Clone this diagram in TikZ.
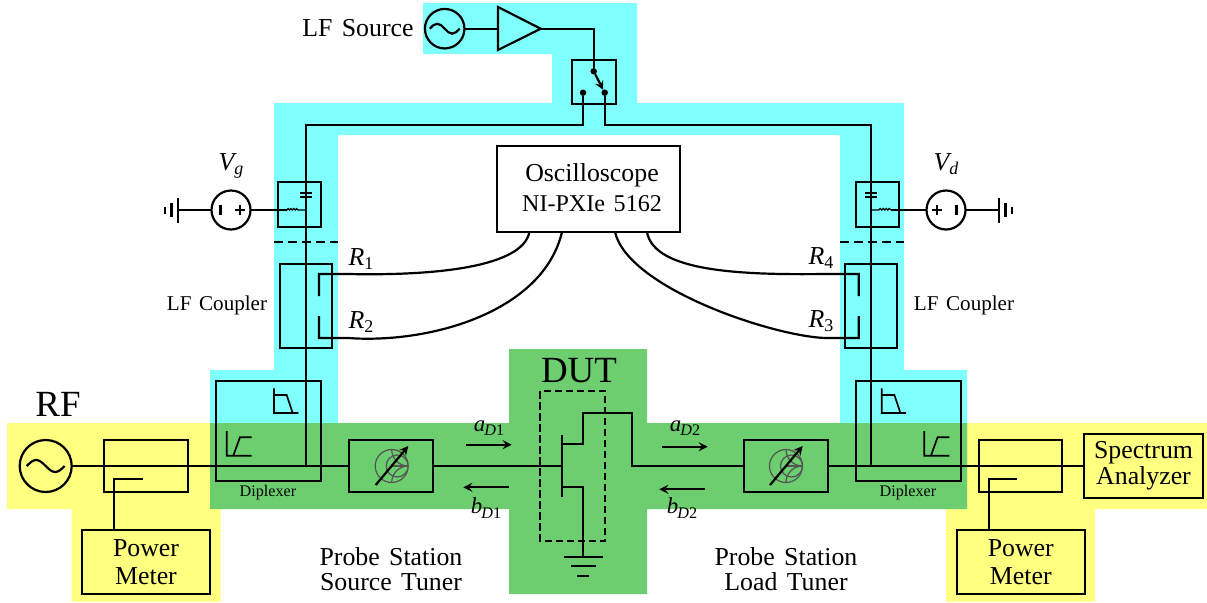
\documentclass[tikz,border=0pt]{standalone}
\usepackage{fontspec}
\setmainfont[WordSpace=1.45]{Liberation Serif}
\definecolor{lfcyan}{RGB}{128,255,255}
\definecolor{pwyellow}{RGB}{255,255,128}
\definecolor{tunergreen}{RGB}{108,206,110}
\definecolor{smithgray}{RGB}{85,85,85}
\newlength{\px}
\setlength{\px}{0.02cm}
\tikzset{
  wire/.style={line width=1.25pt},
  boxnode/.style={draw,line width=1.25pt,rectangle,inner sep=0pt,outer sep=0pt},
  srcnode/.style={draw,line width=1.25pt,circle,inner sep=0pt,outer sep=0pt},
  dotnode/.style={fill,circle,inner sep=0pt,outer sep=0pt,minimum size=6.5\px},
  midtext/.style={font=\fontsize{14.7}{14.2}\selectfont,align=center,inner sep=0pt},
  bigtext/.style={font=\fontsize{21}{21}\selectfont,inner sep=0pt},
  smalltext/.style={font=\fontsize{12}{14}\selectfont,inner sep=0pt},
  tinytext/.style={font=\fontsize{9.2}{11}\selectfont,inner sep=0pt},
  wavetext/.style={font=\fontsize{13}{13}\selectfont,inner sep=0pt},
}
% italic letter with a lowered index, size fixed by hand
\newcommand{\idx}[3]{\textit{#1}\kern#3\raisebox{-2.6pt}{\fontsize{10.2}{10}\selectfont #2}}
\newcommand{\wavelbl}[2]{\textit{#1}\kern-0.4pt\raisebox{-2.4pt}{\fontsize{9.2}{9}\selectfont\textit{D}#2}}
\newcommand{\tildewave}[3]{\draw[wire] (#1) ++(-#2,0) sin ++(#2/2,-#3) cos ++(#2/2,#3) sin ++(#2/2,#3) cos ++(#2/2,-#3);}
\newcommand{\smithchart}[1]{%
  \begin{scope}[shift={(#1)},smithgray,line width=0.7pt]
    \draw (0,0) circle (16.5);
    \draw (0,0) -- (16.5,0);
    \begin{scope}
      \clip (0,0) circle (16.5);
      \draw (5.5,0) circle (11);
      \draw (16.5,-16.5) circle (16.5);
      \draw (16.5,16.5) circle (16.5);
    \end{scope}
  \end{scope}}
\begin{document}
\begin{tikzpicture}[x=0.02cm,y=-0.02cm,>=stealth]
  \useasboundingbox (0,0) rectangle (1207,602);
  % coloured bands: lf path, power meters, tuner cross on top
  \fill[lfcyan] (423,3) -- (637,3) -- (637,103) -- (904,103) -- (904,370) -- (967,370) -- (967,423)
    -- (840,423) -- (840,135) -- (338,135) -- (338,423) -- (210,423) -- (210,370) -- (274,370)
    -- (274,103) -- (552,103) -- (552,54) -- (423,54) -- cycle;
  \fill[pwyellow] (7,423) -- (210,423) -- (210,509) -- (220.5,509) -- (220.5,601.5) -- (71.5,601.5) -- (71.5,509) -- (7,509) -- cycle;
  \fill[pwyellow] (967,423) -- (1207,423) -- (1207,509) -- (1095,509) -- (1095,601.5) -- (946,601.5) -- (946,509) -- (967,509) -- cycle;
  \fill[tunergreen] (210,423) -- (509,423) -- (509,349) -- (647,349) -- (647,423) -- (967,423)
    -- (967,509) -- (647,509) -- (647,594) -- (509,594) -- (509,509) -- (210,509) -- cycle;

  % lf source and switch
  \node[srcnode,minimum size=39.5\px] (lfsrc) at (444.7,28.7) {};
  \tildewave{lfsrc}{15}{5}
  \coordinate (ampIn) at (498,28.7);
  \coordinate (ampOut) at (540.7,28.7);
  \draw[wire] (498,7) -- (ampOut) -- (498,50) -- cycle;
  \node[boxnode,minimum width=43.7\px,minimum height=43.4\px] (switch) at (593.8,82) {};
  \node[dotnode] (swIn) at (593.7,71.3) {};
  \node[dotnode] (swA) at (583,92.7) {};
  \node[dotnode] (swB) at (604.7,92.7) {};
  \coordinate (cornerL) at (305.7,124.7);
  \coordinate (cornerR) at (871,124.7);
  \coordinate (jctL) at (305.7,466);
  \coordinate (jctR) at (871,466);
  \draw[wire] (lfsrc) -- (ampIn);
  \draw[wire] (ampOut) -| (swIn);
  \draw[wire,->] (swIn) -- (swB);
  \draw[wire] (swA) |- (cornerL) -- (jctL);
  \draw[wire] (swB) |- (cornerR) -- (jctR);

  % bias tees
  \node[boxnode,minimum width=43.6\px,minimum height=45\px] (teeL) at (299.5,204.5) {};
  \node[boxnode,minimum width=43.3\px,minimum height=45\px] (teeR) at (877.6,204.5) {};
  \foreach \x in {306.2,871.2}
    \foreach \y in {192.7,197.3}
      \draw[line width=1.1pt] (\x-6.2,\y) -- (\x+6.2,\y);
  \coordinate (coilL) at (286.7,210);
  \coordinate (coilR) at (890.7,210);
  \draw[line width=0.7pt] (coilL) \foreach \i in {1,...,4} {arc (180:360:1.41)} -- (305.7,210);
  \draw[line width=0.7pt] (871,210) -- (878.7,210) \foreach \i in {1,...,4} {arc (180:360:1.5)};
  \node[srcnode,minimum size=39\px] (vgsrc) at (231,210) {};
  \node[srcnode,minimum size=39\px] (vdsrc) at (946,210) {};
  \draw[wire] (vgsrc) -- (coilL);
  \draw[wire] (vdsrc) -- (coilR);
  \draw[line width=1.4pt] (220.7,205) -- (220.7,215) (235,210) -- (245,210) (240,205) -- (240,215);
  \draw[line width=1.4pt] (937,205) -- (937,215) (932,210) -- (942,210) (956.3,205) -- (956.3,215);
  \coordinate (gndG) at (178,210);
  \coordinate (gndD) at (999,210);
  \draw[wire] (vgsrc) -- (gndG);
  \draw[wire] (vdsrc) -- (gndD);
  \foreach \dx/\h in {0/12.5,6.5/7,13/3.5} {
    \draw[wire] (178-\dx,210-\h) -- (178-\dx,210+\h);
    \draw[wire] (999+\dx,210-\h) -- (999+\dx,210+\h);
  }
  \draw[wire,dash pattern=on 8.5\px off 5.5\px] (274,242) -- (338,242);
  \draw[wire,dash pattern=on 8.5\px off 5.5\px] (840,242) -- (904,242);

  % lf couplers and oscilloscope
  \node[boxnode,minimum width=51.7\px,minimum height=83.7\px] (cplL) at (305.8,305.9) {};
  \node[boxnode,minimum width=51.7\px,minimum height=83.7\px] (cplR) at (871.2,305.9) {};
  \node[boxnode,minimum width=183\px,minimum height=86\px] (scope) at (588.5,189) {};
  \coordinate (probeR1) at (319,274);
  \coordinate (probeR2) at (319,338);
  \coordinate (probeR3) at (858.7,338);
  \coordinate (probeR4) at (858.7,274);
  \draw[wire] (319,296) -- (probeR1) -- (348,274) .. controls (440,276) and (523,266) .. (scope.south west -| 529.4,0);
  \draw[wire] (319,316) -- (probeR2) -- (348,338) .. controls (430,344) and (543,312) .. (scope.south west -| 562,0);
  \draw[wire] (858.7,316) -- (probeR3) -- (825,338) .. controls (772,336) and (628,288) .. (scope.south east -| 615,0);
  \draw[wire] (858.7,296) -- (probeR4) -- (825,274) .. controls (742,275) and (654,272) .. (scope.south east -| 647,0);

  % diplexers
  \node[boxnode,minimum width=105\px,minimum height=100\px] (dipL) at (268.5,430.7) {};
  \node[boxnode,minimum width=105\px,minimum height=100\px] (dipR) at (908.5,430.7) {};
  \foreach \x in {274,881.7}
    \draw[line width=0.95pt] (\x,388.3) -- (\x,413) -- (\x+24.3,413) (\x,395) -- (\x+12.7,395) -- (\x+18.7,413);
  \foreach \x in {226.7,924.3}
    \draw[line width=0.95pt] (\x,431) -- (\x,455.7) -- (\x+25,455.7) (\x+6.6,455.7) -- (\x+13.3,437.3) -- (\x+25,437.3);

  % tuners, rf source, power meters
  \node[boxnode,minimum width=84\px,minimum height=51.7\px] (tunerL) at (391.3,466) {};
  \node[boxnode,minimum width=84\px,minimum height=51.7\px] (tunerR) at (786,466) {};
  \smithchart{391.7,466}
  \smithchart{786,466}
  \coordinate (smithLa) at (375.7,485);
  \coordinate (smithLb) at (408.3,446);
  \coordinate (smithRa) at (770,485);
  \coordinate (smithRb) at (802.7,446);
  \draw[wire,->] (smithLa) -- (smithLb);
  \draw[wire,->] (smithRa) -- (smithRb);
  \node[srcnode,minimum size=52\px] (rfsrc) at (45.7,466) {};
  \tildewave{rfsrc}{19}{6}
  \node[boxnode,minimum width=83.7\px,minimum height=51.7\px] (dcL) at (145.8,466) {};
  \node[boxnode,minimum width=83.3\px,minimum height=51.7\px] (dcR) at (1020.6,466) {};
  \node[boxnode,midtext,minimum width=128.6\px,minimum height=64.3\px] (pmL) at (146,562) {Power\\[1.5pt]Meter};
  \node[boxnode,midtext,minimum width=128.3\px,minimum height=64.3\px] (pmR) at (1020.8,562) {Power\\[1.5pt]Meter};
  \node[boxnode,midtext,minimum width=118.4\px,minimum height=64.3\px] (specan) at (1143.5,466) {Spectrum\\[0.4pt]Analyzer};
  \draw[wire] (rfsrc) -- (tunerL);
  \draw[wire] (tunerR) -- (specan);
  \draw[wire] (142.7,478.7) -- (114,478.7) -- (pmL.north -| 114,0);
  \draw[wire] (1016.7,478.7) -- (988.7,478.7) -- (pmR.north -| 988.7,0);

  % dut
  \draw[wire,dash pattern=on 7.5\px off 3.5\px] (540.3,391.3) rectangle (605.3,540.7);
  \coordinate (gate) at (562,466);
  \coordinate (drain) at (632.3,466);
  \coordinate (gnd) at (583.3,556.7);
  \draw[wire] (tunerL) -- (gate);
  \draw[wire] (562,435) -- (562,496.7);
  \draw[wire] (562,444.3) -- (583.3,444.3) -- (583.3,412.7) -- (632.3,412.7) -- (drain) -- (tunerR);
  \draw[wire] (562,487.3) -- (583.3,487.3) -- (gnd);
  \draw[wire] (gnd) ++(-19.5,0) -- ++(39,0);
  \draw[wire] (gnd) ++(-12.5,9.3) -- ++(25,0);
  \draw[wire] (gnd) ++(-6,19) -- ++(12,0);

  % wave arrows
  \draw[wire,->] (466,444.7) -- (511.7,444.7);
  \draw[wire,->] (508.7,487.3) -- (463.3,487.3);
  \draw[wire,->] (662.3,446.7) -- (707.7,446.7);
  \draw[wire,->] (705,489.3) -- (659.3,489.3);

  % labels
  \node[midtext] (lblsrc) at (358,28) {LF Source};
  \node[bigtext] (lblrf) at (58,404) {RF};
  \node[bigtext] (lbldut) at (579,370.5) {DUT};
  \node[midtext] (lblvg) at (231,166) {\idx{V}{\textit{g}}{-1.5pt}};
  \node[midtext] (lblvd) at (946,164) {\idx{V}{\textit{d}}{-1.5pt}};
  \node[midtext] (lblra) at (361,259) {\idx{R}{1}{0pt}};
  \node[midtext] (lblrb) at (361,322) {\idx{R}{2}{0pt}};
  \node[midtext] (lblrc) at (821,321) {\idx{R}{3}{0pt}};
  \node[midtext] (lblrd) at (821,258) {\idx{R}{4}{0pt}};
  \node[smalltext] (lblcplL) at (217,305) {LF Coupler};
  \node[smalltext] (lblcplR) at (964,305) {LF Coupler};
  \node[tinytext] (lbldipL) at (268,493) {Diplexer};
  \node[tinytext] (lbldipR) at (908,493) {Diplexer};
  \node[midtext] (lblscope) at (592,175) {Oscilloscope};
  \node[midtext,font=\fontsize{13.7}{14}\selectfont] (lblpxi) at (592,204) {NI-PXIe 5162};
  \node[midtext] (lblsrctuner) at (391,569.5) {Probe Station\\Source Tuner};
  \node[midtext] (lblloadtuner) at (786,569.5) {Probe Station\\Load Tuner};
  \node[wavetext] (lblaa) at (489,428) {\wavelbl{a}{1}};
  \node[wavetext] (lblba) at (486,508) {\wavelbl{b}{1}};
  \node[wavetext] (lblab) at (685,428) {\wavelbl{a}{2}};
  \node[wavetext] (lblbb) at (682,508) {\wavelbl{b}{2}};
\end{tikzpicture}
\end{document}
